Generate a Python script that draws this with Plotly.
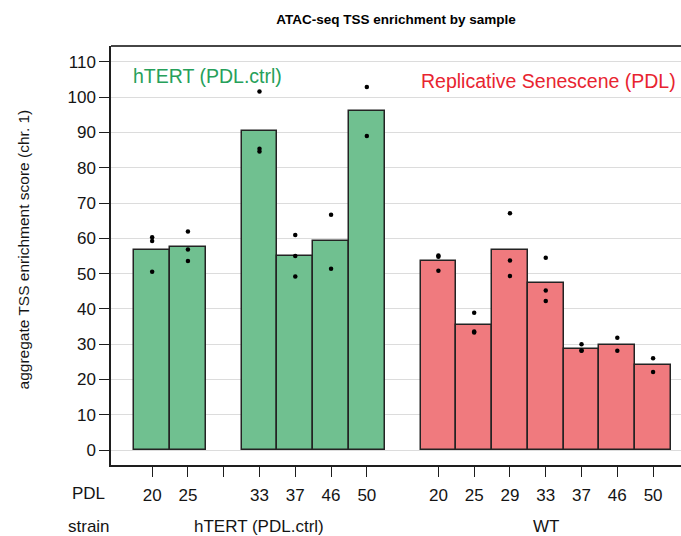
import plotly.graph_objects as go

# ---- data ----
pdl_levels = [20, 25, 29, 33, 37, 46, 50]
strains = ["hTERT (PDL.ctrl)", "WT"]

htert_means = [56.7, 57.4, None, 90.5, 55.0, 59.1, 96.0]
wt_means = [53.5, 35.3, 56.6, 47.3, 28.6, 29.9, 24.0]

htert_points = [
    [60.3, 59.2, 50.5],
    [61.9, 56.8, 53.6],
    [],
    [101.6, 85.4, 84.6],
    [60.9, 55.0, 49.2],
    [66.7, 51.4],
    [102.9, 89.0],
]
wt_points = [
    [55.1, 54.8, 50.8],
    [38.9, 33.3, 33.6],
    [67.1, 53.7, 49.3],
    [54.5, 45.2, 42.2],
    [30.0, 28.2, 28.1],
    [31.8, 28.1],
    [26.0, 22.1],
]

y_ticks = list(range(0, 111, 10))

# ---- styling ----
GREEN_FILL = "rgb(112,192,144)"
RED_FILL = "rgb(240,122,126)"
GREEN_TXT = "rgb(38,160,90)"
RED_TXT = "rgb(232,36,48)"
FONT = "Liberation Sans, Arial, sans-serif"

fig = go.Figure()

groups = [
    (strains[0], htert_means, htert_points, GREEN_FILL),
    (strains[1], wt_means, wt_points, RED_FILL),
]

tickvals, ticktext = [], []
group_centers = []
slot = 0
for name, means, points, color in groups:
    xs = [slot + i for i in range(len(pdl_levels))]
    bx = [x for x, m in zip(xs, means) if m is not None]
    by = [m for m in means if m is not None]
    fig.add_trace(go.Bar(
        x=bx, y=by, width=1.0,
        marker=dict(color=color, line=dict(color="rgb(35,35,35)", width=1.5)),
        showlegend=False, hoverinfo="skip",
    ))
    px, py = [], []
    for x, pts in zip(xs, points):
        for p in pts:
            px.append(x)
            py.append(p)
    fig.add_trace(go.Scatter(
        x=px, y=py, mode="markers",
        marker=dict(color="black", size=4.5),
        showlegend=False, hoverinfo="skip",
    ))
    for x, lvl, m in zip(xs, pdl_levels, means):
        tickvals.append(x)
        ticktext.append(str(lvl) if m is not None else "")
    group_centers.append((name, (xs[0] + xs[-1]) / 2))
    slot += len(pdl_levels) + 1

fig.update_layout(
    width=681, height=536,
    margin=dict(l=111, r=0, t=46, b=71, autoexpand=False),
    plot_bgcolor="white", paper_bgcolor="white",
    bargap=0,
    font=dict(family=FONT, size=17, color="rgb(20,20,20)"),
    title=dict(text="<b>ATAC-seq TSS enrichment by sample</b>",
               x=0.5815, xanchor="center", y=0.964, yanchor="middle",
               font=dict(size=13.5, color="black")),
    xaxis=dict(
        range=[-1.15, 14.78], tickvals=tickvals, ticktext=ticktext,
        ticks="outside", ticklen=10, tickwidth=1.3, tickcolor="rgb(30,30,30)",
        showline=True, linecolor="rgb(30,30,30)", linewidth=1.5,
        showgrid=False, zeroline=False, tickfont=dict(size=17),
        automargin=False, ticklabelstandoff=4,
    ),
    yaxis=dict(
        range=[-4.25, 114.5], tickvals=y_ticks,
        ticks="outside", ticklen=10, tickwidth=1.3, tickcolor="rgb(30,30,30)",
        showline=True, linecolor="rgb(30,30,30)", linewidth=1.5,
        showgrid=True, gridcolor="rgb(220,220,220)", gridwidth=1,
        zeroline=False, tickfont=dict(size=17), automargin=False,
    ),
)

# top border
fig.add_shape(type="line", xref="paper", yref="paper", x0=0, x1=1, y0=1, y1=1,
              line=dict(color="rgb(70,70,70)", width=2))

# y-axis title
fig.add_annotation(text="aggregate TSS enrichment score (chr. 1)", xref="paper", yref="paper",
                   x=-0.154, y=0.515, xanchor="center", yanchor="middle", textangle=-90,
                   showarrow=False, font=dict(size=15.5))

# group titles in-plot
fig.add_annotation(text="hTERT (PDL.ctrl)", xref="paper", yref="paper",
                   x=0.035, y=0.928, xanchor="left", yanchor="middle",
                   showarrow=False, font=dict(size=19.5, color=GREEN_TXT))
fig.add_annotation(text="Replicative Senescene (PDL)", xref="paper", yref="paper",
                   x=0.995, y=0.917, xanchor="right", yanchor="middle",
                   showarrow=False, font=dict(size=19.5, color=RED_TXT))

# row labels under axis
fig.add_annotation(text="PDL", xref="paper", yref="paper", x=-0.0386, y=-0.067,
                   xanchor="center", yanchor="middle", showarrow=False,
                   font=dict(size=17))
fig.add_annotation(text="strain", xref="paper", yref="paper", x=-0.0386, y=-0.147,
                   xanchor="center", yanchor="middle", showarrow=False,
                   font=dict(size=17))
for name, cx in group_centers:
    fig.add_annotation(text=name, xref="x", yref="paper", x=cx, y=-0.147,
                       xanchor="center", yanchor="middle", showarrow=False,
                       font=dict(size=17))

fig.write_html("out.html", config={"displayModeBar": False},
               post_script="document.body.style.margin='0';document.body.style.overflow='hidden';")
